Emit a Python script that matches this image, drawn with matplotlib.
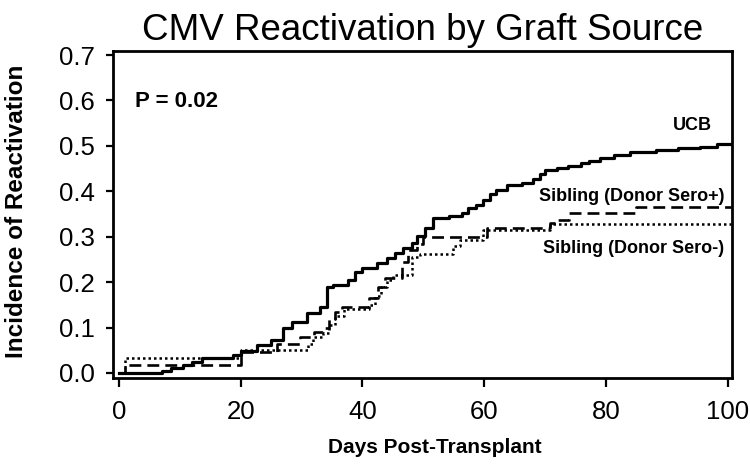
import matplotlib
matplotlib.use("Agg")
import matplotlib.pyplot as plt

# cumulative incidence (day, value)
ucb_days = [0, 7, 8.5, 10.5, 12, 13.6, 18.7, 20, 22.6, 25, 27, 28.4, 30.9, 33, 34.1, 35.1,
            37.6, 38.8, 39.9, 42.4, 44, 45.3, 46.6, 48.1, 48.9, 50.2, 51.6, 54.3, 56.3, 57.3,
            58.6, 59.8, 60.9, 61.9, 63.8, 66.2, 68, 69.1, 70, 71.9, 73.7, 76, 77.3, 79, 81.4,
            83.9, 88.3, 91.8, 95.4, 98.2, 100.5]
ucb_inc = [0, 0.005, 0.012, 0.018, 0.025, 0.033, 0.040, 0.048, 0.062, 0.073, 0.100, 0.112,
           0.132, 0.146, 0.190, 0.194, 0.205, 0.222, 0.231, 0.242, 0.253, 0.264, 0.275, 0.286,
           0.302, 0.320, 0.341, 0.346, 0.352, 0.363, 0.370, 0.381, 0.394, 0.403, 0.414, 0.419,
           0.427, 0.438, 0.447, 0.451, 0.456, 0.462, 0.467, 0.473, 0.480, 0.487, 0.491, 0.495,
           0.498, 0.504, 0.504]

pos_days = [0, 1, 20, 26, 29.8, 32, 33.5, 34.5, 35.5, 36.7, 41.1, 42.5, 43.7, 46.5, 47.5,
            49, 50, 60.4, 70.8, 72, 74, 85, 100.5]
pos_inc = [0, 0.018, 0.046, 0.064, 0.079, 0.090, 0.100, 0.118, 0.135, 0.146, 0.165, 0.190,
           0.210, 0.245, 0.270, 0.285, 0.300, 0.319, 0.330, 0.337, 0.352, 0.366, 0.366]

neg_days = [0, 1, 20, 31, 31.8, 33.5, 34.5, 35.5, 37, 41.1, 42, 43, 44, 45, 48.2, 49.5,
            54.8, 56, 59.8, 70.8, 100.5]
neg_inc = [0, 0.033, 0.050, 0.064, 0.079, 0.088, 0.105, 0.125, 0.140, 0.150, 0.170, 0.190,
           0.205, 0.215, 0.255, 0.262, 0.280, 0.293, 0.315, 0.328, 0.328]

xticks = [0, 20, 40, 60, 80, 100]
yticks = [0.0, 0.1, 0.2, 0.3, 0.4, 0.5, 0.6, 0.7]

plt.rcParams["font.family"] = ["Liberation Sans", "DejaVu Sans"]

fig = plt.figure(figsize=(7.5, 4.67), dpi=100)
ax = fig.add_axes([0.1507, 0.1906, 0.825, 0.7002])

ax.step(ucb_days, ucb_inc, where="post", color="black", lw=2.3)
ax.step(pos_days, pos_inc, where="post", color="black", lw=1.9, linestyle=(0, (4.5, 2.3)))
ax.step(neg_days, neg_inc, where="post", color="black", lw=1.8, linestyle=(0, (1, 1.2)))

ax.set_xlim(-1, 100.7)
ax.set_ylim(-0.011, 0.709)
ax.set_xticks(xticks)
ax.set_yticks(yticks)
ax.set_yticklabels(["%.1f" % v for v in yticks])

for s in ax.spines.values():
    s.set_linewidth(2.0)
ax.tick_params(axis="x", length=6.5, width=1.6, pad=9, labelsize=18.5)
ax.tick_params(axis="y", length=5, width=1.6, pad=8, labelsize=18.5)

ax.set_title("CMV Reactivation by Graft Source", fontsize=26.5, pad=8)
ax.set_xlabel("Days Post-Transplant", fontsize=15, fontweight="bold")
ax.set_ylabel("Incidence of Reactivation", fontsize=17.5, fontweight="bold")
ax.xaxis.set_label_coords(0.52, -0.185)
ax.yaxis.set_label_coords(-0.138, 0.51)

ax.text(2.6, 0.597, "P = 0.02", fontsize=16, fontweight="bold", ha="left", va="center")
ax.text(97.5, 0.546, "UCB", fontsize=13, fontweight="bold", ha="right", va="center")
ax.text(99.5, 0.388, "Sibling (Donor Sero+)", fontsize=13, fontweight="bold",
        ha="right", va="center")
ax.text(99.5, 0.275, "Sibling (Donor Sero-)", fontsize=13, fontweight="bold",
        ha="right", va="center")

fig.savefig("out.png", dpi=100)
